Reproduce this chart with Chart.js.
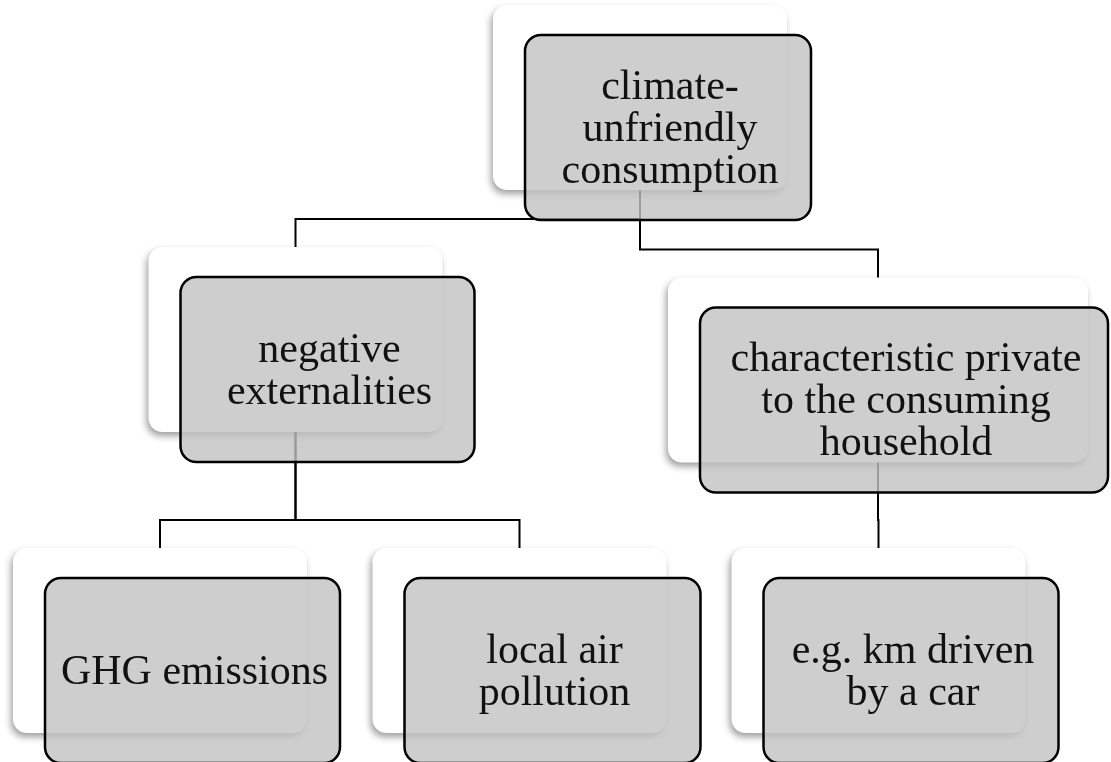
<!DOCTYPE html>
<html>
<head>
<meta charset="utf-8">
<script src="https://cdn.jsdelivr.net/npm/chart.js@4.4.1/dist/chart.umd.min.js"></script>
<style>
  html, body { margin: 0; padding: 0; background: #ffffff; }
  #wrap { width: 1111px; height: 762px; }
</style>
</head>
<body>
<div id="wrap"><canvas id="c" width="1111" height="762"></canvas></div>
<script>
// ---- Diagram data ----
const nodeLabels = [
  ["climate-", "unfriendly", "consumption"],
  ["negative", "externalities"],
  ["characteristic private", "to the consuming", "household"],
  ["GHG emissions"],
  ["local air", "pollution"],
  ["e.g. km driven", "by a car"]
];
// centre of each node's back card, in diagram units
const nodeX = [640, 295.5, 878, 160, 519.5, 878.5];
const nodeY = [97.5, 339.5, 370, 640.5, 640.5, 640.5];
// parent of each node (-1 = root)
const nodeParent = [-1, 0, 0, 1, 1, 2];

const orgPlugin = {
  id: 'orgchart',
  afterDatasetsDraw(chart, args, o) {
    const { ctx, scales: { x, y } } = chart;
    const px = v => x.getPixelForValue(v);
    const py = v => y.getPixelForValue(v);
    const boxes = nodeLabels.map((lbl, i) => {
      const w = o.cardWidths[i], h = o.cardHeight;
      const gw = o.frontWidths[i];
      return {
        cx: px(nodeX[i]),
        l: px(nodeX[i] - w / 2), r: px(nodeX[i] + w / 2),
        t: py(nodeY[i] - h / 2), b: py(nodeY[i] + h / 2),
        gl: px(nodeX[i] - w / 2 + o.offX), gr: px(nodeX[i] - w / 2 + o.offX + gw),
        gt: py(nodeY[i] - h / 2 + o.offY), gb: py(nodeY[i] + h / 2 + o.offY)
      };
    });
    const rr = (l, t, r, b, rad) => {
      ctx.beginPath();
      ctx.roundRect(l, t, r - l, b - t, rad);
    };
    ctx.save();
    // back cards with shadow
    boxes.forEach(bx => {
      ctx.save();
      ctx.shadowColor = 'rgba(0,0,0,0.38)';
      ctx.shadowBlur = 7;
      ctx.shadowOffsetX = -2;
      ctx.shadowOffsetY = 4;
      ctx.fillStyle = '#ffffff';
      rr(bx.l, bx.t, bx.r, bx.b, o.radius);
      ctx.fill();
      ctx.restore();
    });
    // connectors
    ctx.strokeStyle = '#000000';
    ctx.lineWidth = 2;
    ctx.lineCap = 'butt';
    nodeParent.forEach((p, i) => {
      if (p < 0) return;
      const P = boxes[p], C = boxes[i];
      const ey = C.t - o.elbow;
      ctx.beginPath();
      ctx.moveTo(P.cx, P.b);
      ctx.lineTo(P.cx, ey);
      ctx.lineTo(C.cx, ey);
      ctx.lineTo(C.cx, C.t);
      ctx.stroke();
    });
    // front cards
    boxes.forEach((bx, i) => {
      ctx.fillStyle = 'rgba(194,194,194,0.8)';
      rr(bx.gl, bx.gt, bx.gr, bx.gb, o.radius + 2);
      ctx.fill();
      ctx.strokeStyle = '#000000';
      ctx.lineWidth = 2.5;
      ctx.stroke();
      // text
      ctx.fillStyle = '#111111';
      ctx.font = o.fontSize + 'px "Liberation Serif", "DejaVu Serif", serif';
      ctx.textAlign = 'center';
      ctx.textBaseline = 'middle';
      const lines = nodeLabels[i];
      const cxT = (bx.gl + bx.gr) / 2 + 2;
      const cyT = (bx.gt + bx.gb) / 2 + 2;
      lines.forEach((s, k) => {
        ctx.fillText(s, cxT, cyT + (k - (lines.length - 1) / 2) * o.lineHeight);
      });
    });
    ctx.restore();
  }
};

new Chart(document.getElementById('c'), {
  type: 'scatter',
  data: {
    datasets: [{
      data: nodeX.map((v, i) => ({ x: v, y: nodeY[i] })),
      pointRadius: 0,
      pointHoverRadius: 0
    }]
  },
  options: {
    responsive: false,
    animation: false,
    events: [],
    layout: { padding: 0 },
    scales: {
      x: { type: 'linear', min: 0, max: 1111, display: false },
      y: { type: 'linear', min: 0, max: 762, reverse: true, display: false }
    },
    plugins: {
      legend: { display: false },
      tooltip: { enabled: false },
      orgchart: {
        cardWidths: [294, 294, 420, 294, 294, 294],
        frontWidths: [286, 294, 408, 295, 296, 295],
        cardHeight: 185,
        offX: 32,
        offY: 30,
        radius: 14,
        elbow: 28,
        fontSize: 42,
        lineHeight: 42
      }
    }
  },
  plugins: [orgPlugin]
});
</script>
</body>
</html>
